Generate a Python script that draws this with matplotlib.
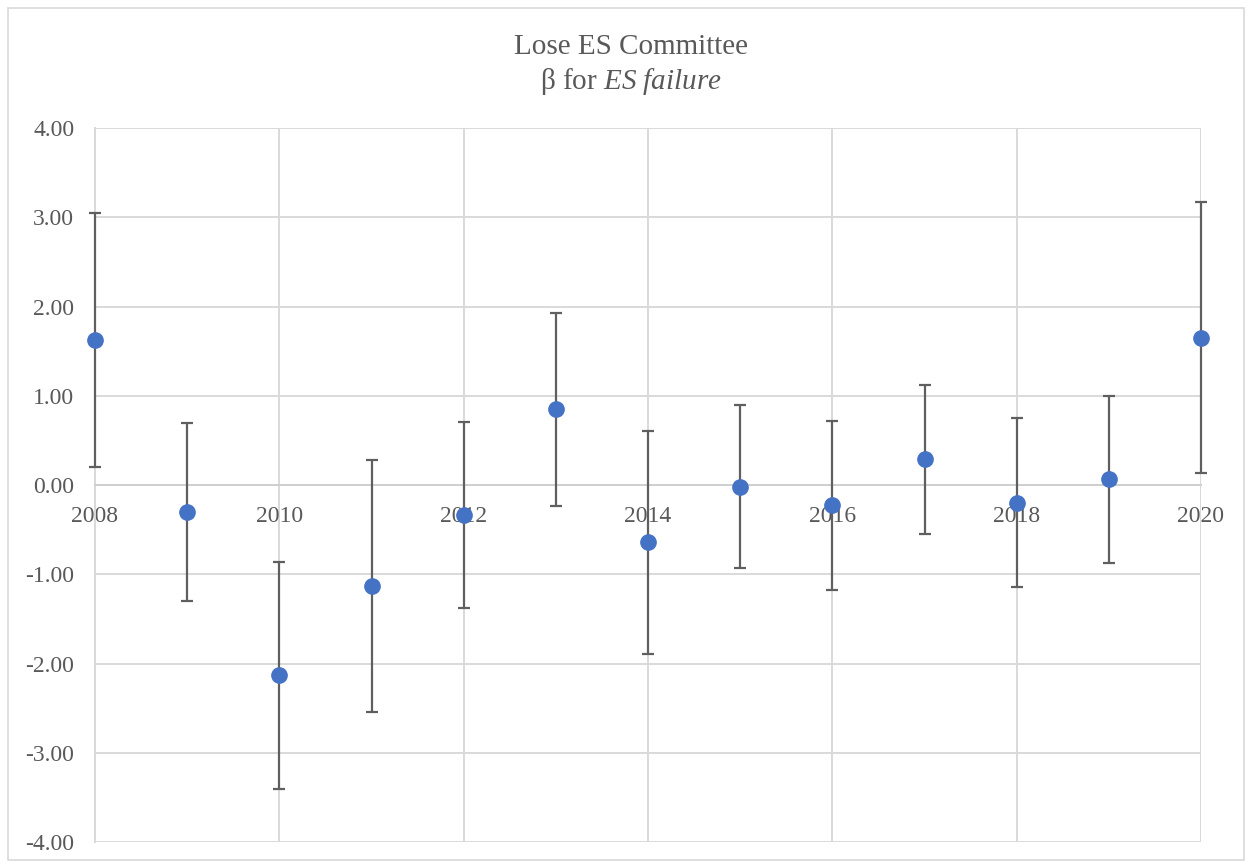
import matplotlib
matplotlib.use("Agg")
import matplotlib.pyplot as plt
from matplotlib.patches import Rectangle

years = [2008, 2009, 2010, 2011, 2012, 2013, 2014, 2015, 2016, 2017, 2018, 2019, 2020]
beta = [1.62, -0.30, -2.13, -1.13, -0.34, 0.85, -0.64, -0.02, -0.22, 0.29, -0.20, 0.07, 1.65]
upper = [3.05, 0.70, -0.86, 0.28, 0.71, 1.93, 0.61, 0.90, 0.72, 1.12, 0.75, 1.00, 3.17]
lower = [0.20, -1.30, -3.41, -2.54, -1.38, -0.235, -1.89, -0.93, -1.18, -0.55, -1.14, -0.87, 0.13]

x_ticks = [2008, 2010, 2012, 2014, 2016, 2018, 2020]
y_ticks = [-4, -3, -2, -1, 0, 1, 2, 3, 4]

plt.rcParams["font.family"] = ["Liberation Serif", "DejaVu Serif"]
plt.rcParams["mathtext.fontset"] = "custom"
plt.rcParams["mathtext.rm"] = "Liberation Serif"
plt.rcParams["mathtext.it"] = "Liberation Serif:italic"

TXT = "#595959"
GRID = "#D9D9D9"

fig = plt.figure(figsize=(12.5, 8.67), dpi=100)
ax = fig.add_axes([0.076, 0.0288, 0.8848, 0.8235])

err_lo = [b - l for b, l in zip(beta, lower)]
err_hi = [u - b for b, u in zip(beta, upper)]
eb = ax.errorbar(years, beta, yerr=[err_lo, err_hi], fmt="o", color="#4472C4",
                 markersize=11, ecolor="#5F5F5F", elinewidth=1.6, capsize=4.5,
                 capthick=1.6, zorder=4)
for artist in eb.get_children():
    artist.set_clip_on(False)

ax.set_xlim(2008, 2020)
ax.set_ylim(-4, 4)
ax.set_xticks(x_ticks)
ax.set_yticks(y_ticks)
ax.set_yticklabels([f"{v:.2f}" for v in y_ticks])
ax.grid(True, color=GRID, linewidth=1.4, zorder=0)
ax.set_axisbelow(True)

for s in ["top", "right"]:
    ax.spines[s].set_visible(False)
ax.spines["left"].set_color(GRID)
ax.spines["left"].set_linewidth(1.4)
ax.spines["bottom"].set_position(("data", 0))
ax.spines["bottom"].set_color("#CFCFCF")
ax.spines["bottom"].set_linewidth(1.4)

ax.tick_params(axis="both", length=0, labelsize=17, labelcolor=TXT)
ax.tick_params(axis="y", pad=15)
ax.tick_params(axis="x", pad=15)

fig.text(0.5045, 0.946, "Lose ES Committee", ha="center", va="center",
         fontsize=21, color=TXT)
fig.text(0.5045, 0.906, r"β for $\mathit{ES\ failure}$", ha="center", va="center",
         fontsize=21, color=TXT)

fig.patches.append(Rectangle((0.0064, 0.008), 0.9888, 0.983, transform=fig.transFigure,
                             fill=False, edgecolor=GRID, linewidth=1.2))

fig.savefig("out.png", dpi=100)
